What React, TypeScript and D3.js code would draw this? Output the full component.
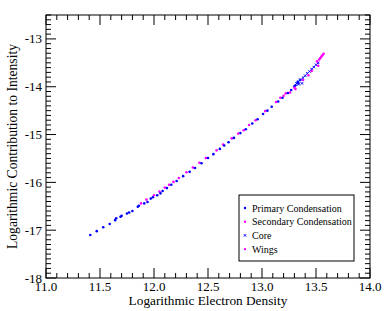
import React from 'react';
import * as d3 from 'd3';

// log electron density / log contribution pairs
const primaryX = [11.41, 11.47, 11.53, 11.59, 11.64, 11.65, 11.69, 11.70, 11.75, 11.77, 11.80, 11.85, 11.86, 11.91, 11.94, 11.97, 11.99, 12.03, 12.06, 12.08, 12.12, 12.16, 12.21, 12.27, 12.33, 12.38, 12.44, 12.50, 12.55, 12.61, 12.65, 12.69, 12.74, 12.80, 12.85, 12.91, 12.96, 13.01, 13.05, 13.09, 13.15, 13.19, 13.24, 13.27, 13.30, 13.31, 13.33];
const primaryY = [-17.10, -17.02, -16.94, -16.87, -16.79, -16.75, -16.72, -16.70, -16.65, -16.63, -16.60, -16.51, -16.49, -16.44, -16.41, -16.34, -16.31, -16.27, -16.23, -16.18, -16.12, -16.05, -15.97, -15.87, -15.78, -15.70, -15.60, -15.49, -15.41, -15.30, -15.23, -15.16, -15.07, -14.97, -14.89, -14.77, -14.68, -14.57, -14.50, -14.42, -14.31, -14.23, -14.13, -14.07, -13.99, -13.97, -13.92];

const secondaryX = [11.88, 11.93, 12.00, 12.05, 12.10, 12.14, 12.18, 12.23, 12.30, 12.36, 12.42, 12.48, 12.58, 12.64, 12.72, 12.78, 12.83, 12.88, 12.94, 13.03, 13.13, 13.17, 13.22];
const secondaryY = [-16.44, -16.36, -16.27, -16.19, -16.11, -16.05, -15.99, -15.91, -15.79, -15.69, -15.59, -15.49, -15.33, -15.21, -15.08, -14.98, -14.91, -14.80, -14.70, -14.51, -14.32, -14.23, -14.14];

const coreX = [13.32, 13.33, 13.34, 13.35, 13.36, 13.38, 13.40, 13.42, 13.44, 13.46, 13.48, 13.50, 13.52, 13.34, 13.37];
const coreY = [-13.93, -13.90, -13.89, -13.86, -13.85, -13.81, -13.77, -13.72, -13.68, -13.63, -13.59, -13.54, -13.50, -13.95, -13.93];

const wingsX = [13.57, 13.56, 13.55, 13.54, 13.53, 13.51, 13.52, 13.46, 13.43, 13.38, 13.30, 13.31, 13.26, 13.20];
const wingsY = [-13.31, -13.34, -13.37, -13.40, -13.43, -13.47, -13.56, -13.67, -13.76, -13.86, -14.02, -14.05, -14.12, -14.19];

const xTicks = [11.0, 11.5, 12.0, 12.5, 13.0, 13.5, 14.0];
const yTicks = [-18, -17, -16, -15, -14, -13];
const legendLabels = ['Primary Condensation', 'Secondary Condensation', 'Core', 'Wings'];

const BLUE = '#0000ff';
const MAGENTA = '#ff00ff';

export default function App() {
  const width = 389;
  const height = 311;
  const left = 46, right = 370, top = 15, bottom = 278;
  const x = d3.scaleLinear().domain([11, 14]).range([left, right]);
  const y = d3.scaleLinear().domain([-18, -12.5]).range([bottom, top]);

  const xMinor = d3.range(110, 141).map(v => v / 10);
  const yMinor = d3.range(-180, -124).map(v => v / 10);
  const font = '"Liberation Serif", "Times New Roman", serif';

  const dots = (xs: number[], ys: number[], color: string) =>
    xs.map((v, i) => <circle key={i} cx={x(v)} cy={y(ys[i])} r={1.3} fill={color} />);

  const cross = (cx: number, cy: number, color: string, key: any, s = 1.2) => (
    <g key={key} stroke={color} strokeWidth={1}>
      <line x1={cx - s} y1={cy - s} x2={cx + s} y2={cy + s} />
      <line x1={cx - s} y1={cy + s} x2={cx + s} y2={cy - s} />
    </g>
  );

  const lx = 239, ly = 195, lw = 115, lh = 66;

  return (
    <svg width={width} height={height} style={{ position: 'absolute', left: 0, top: 0 }} fontFamily={font}>
      <rect width={width} height={height} fill="#fff" />
      {/* ticks on all four sides, pointing inward */}
      <g stroke="#000" strokeWidth={1}>
        {xMinor.map((v, i) => {
          const major = Math.abs(v * 2 - Math.round(v * 2)) < 1e-6;
          const len = major ? 10 : 5;
          const px = x(v);
          return (
            <g key={i}>
              <line x1={px} x2={px} y1={bottom} y2={bottom - len} />
              <line x1={px} x2={px} y1={top} y2={top + len} />
            </g>
          );
        })}
        {yMinor.map((v, i) => {
          const major = Math.abs(v - Math.round(v)) < 1e-6;
          const len = major ? 10 : 5;
          const py = y(v);
          return (
            <g key={i}>
              <line x1={left} x2={left + len} y1={py} y2={py} />
              <line x1={right} x2={right - len} y1={py} y2={py} />
            </g>
          );
        })}
        <rect x={left} y={top} width={right - left} height={bottom - top} fill="none" />
      </g>

      <g fontSize={13} fill="#000">
        {xTicks.map(v => (
          <text key={v} x={x(v)} y={bottom + 13} textAnchor="middle">{v.toFixed(1)}</text>
        ))}
        {yTicks.map(v => (
          <text key={v} x={left - 4} y={y(v)} dy="0.35em" textAnchor="end">{v}</text>
        ))}
      </g>

      <text x={208} y={305} textAnchor="middle" fontSize={13.3}>Logarithmic Electron Density</text>
      <text transform={`translate(17,${(top + bottom) / 2}) rotate(-90)`} textAnchor="middle" fontSize={13.6}>
        Logarithmic Contribution to Intensity
      </text>

      <g>
        {dots(secondaryX, secondaryY, MAGENTA)}
        {dots(primaryX, primaryY, BLUE)}
        {coreX.map((v, i) => cross(x(v), y(coreY[i]), BLUE, i))}
        {dots(wingsX, wingsY, MAGENTA)}
      </g>

      <g>
        <rect x={lx} y={ly} width={lw} height={lh} fill="#fff" stroke="#000" strokeWidth={1} />
        {legendLabels.map((lab, i) => {
          const cy = ly + 13 + i * 13.7;
          const color = i % 2 === 0 ? BLUE : MAGENTA;
          return (
            <g key={lab}>
              {i === 2
                ? cross(lx + 6, cy, color, 'c', 1.2)
                : <circle cx={lx + 6} cy={cy} r={1.2} fill={color} />}
              <text x={lx + 13} y={cy} dy="0.35em" fontSize={10}>{lab}</text>
            </g>
          );
        })}
      </g>
    </svg>
  );
}
